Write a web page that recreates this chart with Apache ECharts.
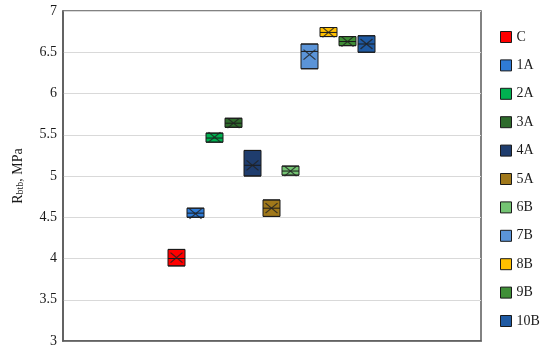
<!DOCTYPE html>
<html>
<head>
<meta charset="utf-8">
<script src="https://cdn.jsdelivr.net/npm/echarts@6/dist/echarts.min.js"></script>
<style>
  html, body { margin: 0; padding: 0; background: #fff; }
  #main { width: 550px; height: 351px; }
</style>
</head>
<body>
<div id="main"></div>
<script>
// groups (one box each)
var groups = ['C', '1A', '2A', '3A', '4A', '5A', '6B', '7B', '8B', '9B', '10B'];
// box values, MPa
var q1     = [3.91, 4.50, 5.41, 5.59, 5.00, 4.51, 5.01, 6.30, 6.69, 6.58, 6.50];
var median = [4.00, 4.55, 5.46, 5.64, 5.13, 4.61, 5.06, 6.51, 6.74, 6.63, 6.60];
var q3     = [4.11, 4.61, 5.52, 5.70, 5.31, 4.71, 5.12, 6.60, 6.80, 6.69, 6.70];
var mean   = [4.01, 4.54, 5.47, 5.64, 5.13, 4.61, 5.06, 6.47, 6.74, 6.63, 6.60];
// y axis
var yMin = 3, yMax = 7, yStep = 0.5;

var colors = ['#ff0000', '#2f7bd6', '#00b050', '#2e6b2c', '#1f3d6e', '#a0781a',
              '#74c473', '#5b94d8', '#ffc000', '#3f8f37', '#1f5aa3'];
var serif = 'Liberation Serif';

var chart = echarts.init(document.getElementById('main'));

// hidden x axes for the boxes, one per group so the boxes are not shifted
var boxAxes = groups.map(function () {
  return { type: 'category', gridIndex: 1, data: groups, show: false };
});

var boxSeries = groups.map(function (g, i) {
  return {
    name: g,
    type: 'boxplot',
    xAxisIndex: i + 1,
    yAxisIndex: 1,
    boxWidth: [17, 17],
    itemStyle: { color: colors[i], borderColor: '#1a1a1a', borderWidth: 1 },
    emphasis: { disabled: true },
    data: groups.map(function (x, j) {
      return j === i ? [q1[i], q1[i], median[i], q3[i], q3[i]] : ['-', '-', '-', '-', '-'];
    })
  };
});

var option = {
  backgroundColor: '#ffffff',
  animation: false,
  grid: [
    { left: 63, right: 69, top: 11, bottom: 10, show: true, borderColor: '#595959', borderWidth: 1.5 },
    { left: 167, width: 209, top: 11, bottom: 10 }
  ],
  legend: {
    orient: 'vertical',
    left: 500,
    top: 30,
    padding: 0,
    icon: 'rect',
    itemWidth: 11,
    itemHeight: 11,
    itemGap: 14.4,
    textStyle: { fontFamily: serif, fontSize: 14, lineHeight: 14, color: '#1a1a1a' },
    data: groups.map(function (g, i) {
      return { name: g, itemStyle: { color: colors[i], borderColor: '#1a1a1a', borderWidth: 1 } };
    })
  },
  xAxis: [{
    type: 'category',
    gridIndex: 0,
    data: [''],
    axisLine: { lineStyle: { color: '#595959', width: 1.5 } },
    axisTick: { show: false },
    axisLabel: { show: false }
  }].concat(boxAxes),
  yAxis: [{
    type: 'value',
    gridIndex: 0,
    min: yMin,
    max: yMax,
    interval: yStep,
    name: '{r|R}{s|btb}{r|, MPa}',
    nameLocation: 'middle',
    nameGap: 38,
    nameTextStyle: {
      rich: {
        r: { fontFamily: serif, fontSize: 14, color: '#1a1a1a' },
        s: { fontFamily: serif, fontSize: 10, color: '#1a1a1a', verticalAlign: 'bottom' }
      }
    },
    axisLine: { show: true, lineStyle: { color: '#595959', width: 1.5 } },
    axisTick: { show: false },
    axisLabel: { fontFamily: serif, fontSize: 14, color: '#1a1a1a', margin: 6 },
    splitLine: { lineStyle: { color: '#d9d9d9', width: 1 } }
  }, {
    type: 'value',
    gridIndex: 1,
    min: yMin,
    max: yMax,
    show: false,
    splitLine: { show: false }
  }],
  series: boxSeries.concat([{
    name: 'mean',
    type: 'scatter',
    xAxisIndex: 1,
    yAxisIndex: 1,
    symbol: 'path://M0,0L10,10M10,0L0,10',
    symbolSize: [12, 10],
    itemStyle: { color: 'rgba(0,0,0,0)', borderColor: '#222', borderWidth: 1.2 },
    z: 5,
    data: groups.map(function (g, i) { return [g, mean[i]]; })
  }])
};

chart.setOption(option);
</script>
</body>
</html>
